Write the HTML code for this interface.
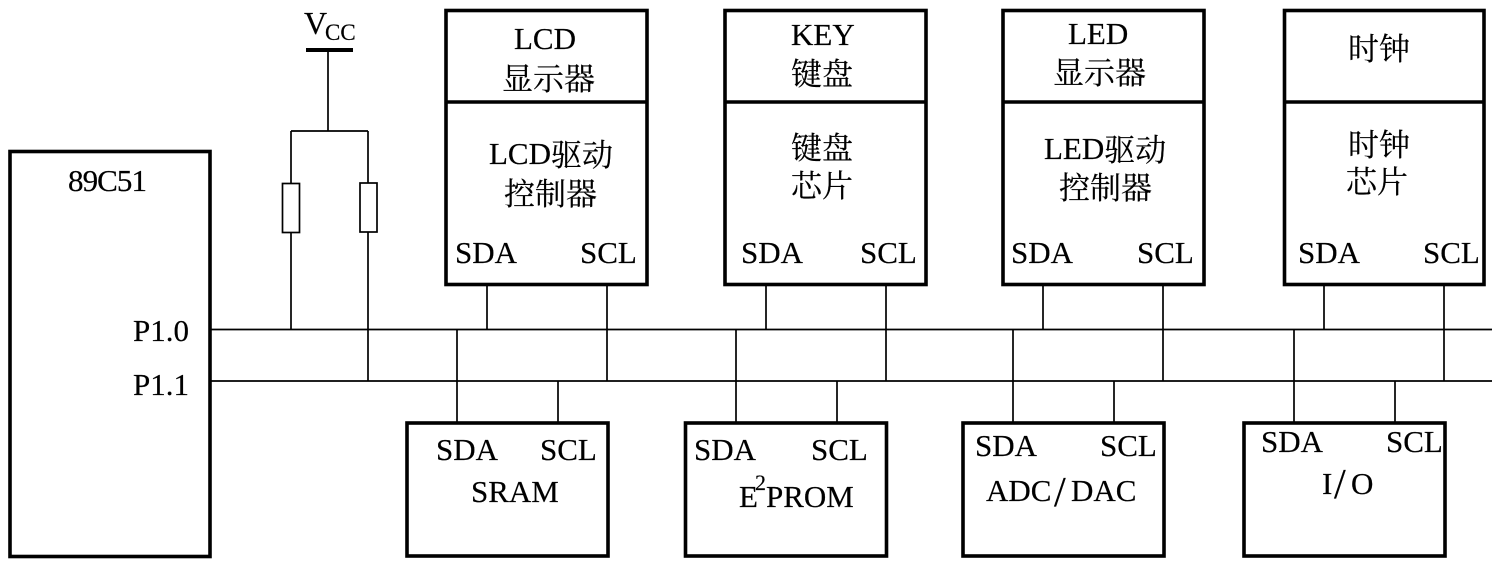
<!DOCTYPE html>
<html><head><meta charset="utf-8"><style>
html,body{margin:0;padding:0;background:#fff;width:1495px;height:563px;overflow:hidden}
svg{display:block}
text{font-family:"Liberation Serif","Noto Serif CJK SC",serif;font-size:31px;fill:#000;stroke:#000;stroke-width:.2}
.b{fill:#fff;stroke:#000;stroke-width:3.6}
.l{stroke:#000;stroke-width:1.7;fill:none}
.t{stroke:#000;stroke-width:3.6;fill:none}
</style></head><body>
<svg width="1495" height="563" viewBox="0 0 1495 563" xmlns="http://www.w3.org/2000/svg">
<!-- wires -->
<path class="l" d="M210 329.5H1492M210 381H1492"/>
<path class="l" d="M328 50V131M291 131H368M291 131V329.5M368 131V381"/>
<path class="l" d="M487 285V329.5M607 285V381M766 285V329.5M886 285V381M1043 285V329.5M1163 285V381M1324 285V329.5M1444 285V381"/>
<path class="l" d="M457 329.5V422M558 381V422M736 329.5V422M837 381V422M1013 329.5V422M1114 381V422M1294 329.5V422M1395 381V422"/>
<!-- Vcc bar -->
<rect x="306" y="48" width="47" height="4" fill="#000"/>
<!-- resistors -->
<rect x="282.5" y="183.5" width="17" height="49" fill="#fff" stroke="#000" stroke-width="1.7"/>
<rect x="360" y="183" width="17" height="49" fill="#fff" stroke="#000" stroke-width="1.7"/>
<!-- boxes -->
<rect class="b" x="10" y="151.5" width="200" height="405"/>
<rect class="b" x="446" y="10.5" width="201" height="274"/><path class="t" d="M446 102H647"/>
<rect class="b" x="725" y="10.5" width="201" height="274"/><path class="t" d="M725 102H926"/>
<rect class="b" x="1003" y="10.5" width="201" height="274"/><path class="t" d="M1003 102H1204"/>
<rect class="b" x="1284.500" y="10.5" width="199.500" height="274"/><path class="t" d="M1284 102H1484"/>
<rect class="b" x="407" y="423" width="201" height="133"/>
<rect class="b" x="685.500" y="423" width="201" height="133"/>
<rect class="b" x="963" y="423" width="201" height="133"/>
<rect class="b" x="1244" y="423" width="201" height="133"/>
<!-- text -->
<text x="304" y="34" style="font-size:32px">V</text>
<text x="325" y="40" style="font-size:23px">CC</text>
<text x="68" y="191" textLength="79">89C51</text>
<text x="133" y="341">P1.0</text>
<text x="133" y="395">P1.1</text>

<text x="514" y="49">LCD</text>
<text x="502" y="90">显示器</text>
<text x="489" y="164">LCD<tspan dy="2">驱动</tspan></text>
<text x="504" y="205">控制器</text>
<text x="455" y="263">SDA</text>
<text x="580" y="263">SCL</text>

<text x="791" y="45">KEY</text>
<text x="791" y="85">键盘</text>
<text x="791" y="159">键盘</text>
<text x="791" y="197">芯片</text>
<text x="741" y="263">SDA</text>
<text x="860" y="263">SCL</text>

<text x="1068" y="44">LED</text>
<text x="1053" y="84">显示器</text>
<text x="1044" y="159">LED<tspan dy="2">驱动</tspan></text>
<text x="1059" y="199">控制器</text>
<text x="1011" y="263">SDA</text>
<text x="1137" y="263">SCL</text>

<text x="1348" y="60">时钟</text>
<text x="1348" y="156">时钟</text>
<text x="1346" y="193">芯片</text>
<text x="1298" y="263">SDA</text>
<text x="1423" y="263">SCL</text>

<text x="436" y="460">SDA</text>
<text x="540" y="460">SCL</text>
<text x="471" y="502">SRAM</text>

<text x="694" y="460">SDA</text>
<text x="811" y="460">SCL</text>
<text x="739" y="507">E</text>
<text x="755" y="490" style="font-size:22px">2</text>
<text x="766" y="507">PROM</text>

<text x="975" y="456">SDA</text>
<text x="1100" y="456">SCL</text>
<text x="986" y="501">ADC</text>
<text x="1054" y="506" style="font-size:42px">/</text>
<text x="1071" y="501">DAC</text>

<text x="1261" y="452">SDA</text>
<text x="1386" y="452">SCL</text>
<text x="1322" y="494">I</text>
<text x="1334" y="498" style="font-size:42px">/</text>
<text x="1351" y="494">O</text>
</svg>
</body></html>
